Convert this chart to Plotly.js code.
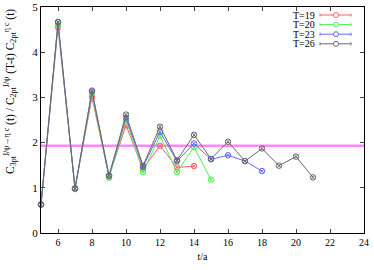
<!DOCTYPE html>
<html><head><meta charset="utf-8">
<script src="https://cdn.plot.ly/plotly-3.0.1.min.js"></script>
<style>html,body{margin:0;padding:0;background:#fff}#c{width:374px;height:270px}</style>
</head><body><div id="c"></div>
<script>
const t19 = [5,6,7,8,9,10,11,12,13,14];
const v19 = [0.63,4.55,0.98,3.00,1.25,2.38,1.42,1.93,1.45,1.48];
const t20 = [5,6,7,8,9,10,11,12,13,14,15];
const v20 = [0.63,4.60,0.97,3.08,1.22,2.50,1.35,2.15,1.35,1.90,1.18];
const t23 = [5,6,7,8,9,10,11,12,13,14,15,16,17,18];
const v23 = [0.63,4.66,0.98,3.13,1.27,2.55,1.46,2.24,1.59,1.98,1.63,1.72,1.59,1.37];
const t26 = [5,6,7,8,9,10,11,12,13,14,15,16,17,18,19,20,21];
const v26 = [0.63,4.67,0.99,3.15,1.27,2.62,1.49,2.35,1.61,2.17,1.64,2.02,1.59,1.87,1.49,1.69,1.23];
const names = ["T=19","T=20","T=23","T=26"];
const colors = ["#ff6060","#50f050","#6868ff","#6a6a6a"];
const refLevel = 1.93;
const yTitle = "C<sub>3pt</sub><sup>J/ψ→η c</sup> (t) / C<sub>2pt</sub><sup>J/ψ</sup> (T-t) C<sub>2pt</sub><sup>η c</sup> (t)";

const fam = "Liberation Serif";
const M = {l:41,r:10,t:7,b:37}, W=374, H=270;
const pw = W-M.l-M.r, ph = H-M.t-M.b;
const px = X => (X-M.l)/pw, py = Y => (H-M.b-Y)/ph;

function tr(x,y,name,color){
  return {x:x,y:y,name:name,type:"scatter",mode:"lines+markers",cliponaxis:false,showlegend:false,
    line:{color:color,width:1},
    marker:{symbol:"circle-x-open",size:5.5,color:color,line:{width:1,color:color}}};
}
const data = [tr(t19,v19,names[0],colors[0]),tr(t20,v20,names[1],colors[1]),
              tr(t23,v23,names[2],colors[2]),tr(t26,v26,names[3],colors[3])];

const shapes = [{type:"line",xref:"paper",x0:0,x1:1,yref:"y",y0:refLevel,y1:refLevel,
    line:{color:"#ff88ff",width:2.5},layer:"below"}];
const annotations = [{text:yTitle,textangle:-90,xref:"paper",yref:"paper",x:px(10),y:py(92),
    xanchor:"center",yanchor:"middle",showarrow:false,font:{family:fam,size:11.5,color:"#000"}}];
names.forEach((n,i)=>{
  const Y = 15 + i*9.6;
  annotations.push({text:n,xref:"paper",yref:"paper",x:px(316),y:py(Y),xanchor:"right",yanchor:"middle",
    borderpad:0,showarrow:false,font:{family:fam,size:10,color:"#000"}});
  shapes.push({type:"line",xref:"paper",yref:"paper",x0:px(320),x1:px(351),y0:py(Y),y1:py(Y),line:{color:colors[i],width:1}});
  shapes.push({type:"line",xref:"paper",yref:"paper",x0:px(320),x1:px(320),y0:py(Y-1.5),y1:py(Y+1.5),line:{color:colors[i],width:1}});
  shapes.push({type:"line",xref:"paper",yref:"paper",x0:px(351),x1:px(351),y0:py(Y-1.5),y1:py(Y+1.5),line:{color:colors[i],width:1}});
  shapes.push({type:"circle",xref:"paper",yref:"paper",x0:px(333.5),x1:px(338.5),y0:py(Y-2.5),y1:py(Y+2.5),
    fillcolor:"#fff",line:{color:colors[i],width:1}});
});

const layout = {
  width:W,height:H,margin:M,
  paper_bgcolor:"#fff",plot_bgcolor:"#fff",
  font:{family:fam,size:10,color:"#000"},
  showlegend:false,
  xaxis:{range:[5,24],tickvals:[6,8,10,12,14,16,18,20,22,24],ticks:"inside",ticklen:4,
    showline:true,mirror:"ticks",linecolor:"#000",linewidth:1,showgrid:false,zeroline:false,
    tickfont:{family:fam,size:10,color:"#000"},
    title:{text:"t/a",font:{family:fam,size:10,color:"#000"},standoff:5}},
  yaxis:{range:[0,5],tickvals:[0,1,2,3,4,5],ticks:"inside",ticklen:4,
    showline:true,mirror:"ticks",linecolor:"#000",linewidth:1,showgrid:false,zeroline:false,
    tickfont:{family:fam,size:11,color:"#000"}},
  shapes:shapes,annotations:annotations
};
Plotly.newPlot("c",data,layout,{displayModeBar:false,staticPlot:true});
</script></body></html>
